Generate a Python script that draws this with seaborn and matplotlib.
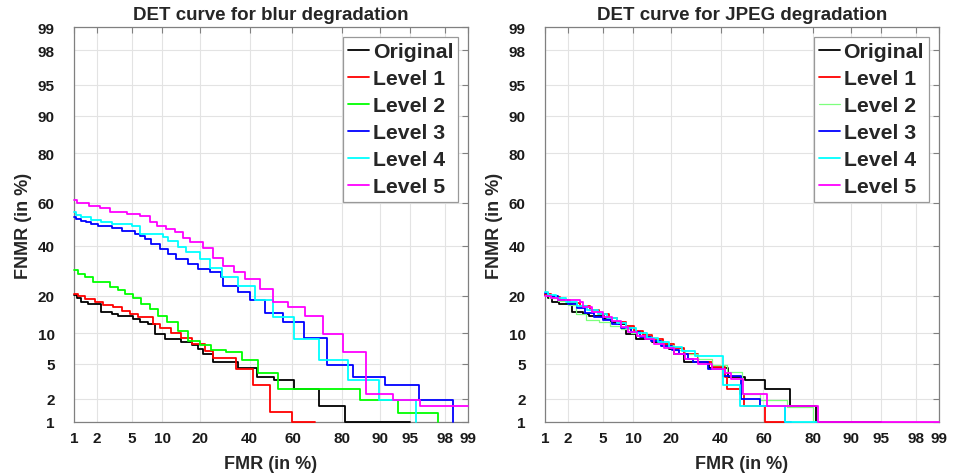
import numpy as np
import pandas as pd
import matplotlib
matplotlib.use("Agg")
import matplotlib.pyplot as plt
import seaborn as sns
from statistics import NormalDist

# ---------------- data (FMR %, FNMR %) ----------------
TICKS = [1, 2, 5, 10, 20, 40, 60, 80, 90, 95, 98, 99]
TICK_LABELS = ["1", "2", "5", "10", "20", "40", "60", "80", "90", "95", "98", "99"]
SERIES = ["Original", "Level 1", "Level 2", "Level 3", "Level 4", "Level 5"]

orig_fmr = [1.0, 1.1, 1.23, 1.53, 2.26, 3.0, 3.55, 5.2, 6.1, 7.3, 8.5, 10.5, 14.5, 17.4,
            19.5, 21.1, 24.7, 34.9, 43.3, 51.4, 60.9, 71.5, 80.9, 95]
orig_fnmr = [20.3, 19.2, 18.1, 17.4, 15.2, 14.6, 14.1, 13.2, 12.6, 12, 9.8, 8.8, 8.2, 7.8,
             7.1, 6.3, 5.2, 4.5, 3.6, 3.3, 2.6, 1.63, 1.0, 1.0]

blur1_fmr = [1.0, 1.13, 1.39, 1.87, 2.37, 3.1, 3.9, 4.75, 5.8, 8.2, 9.4, 12, 14.5, 17.4,
             21.7, 24.7, 34.1, 41.6, 49.6, 59.7, 69.9]
blur1_fnmr = [20.6, 19.8, 19, 18.1, 17.1, 16.4, 15.5, 14.6, 13.7, 12, 11, 10, 9, 7.9,
              6.8, 5.7, 4.4, 2.9, 1.33, 1.0, 1.0]

blur2_fmr = [1.0, 1.13, 1.39, 1.8, 2.84, 3.55, 4.2, 5.2, 6.2, 7.6, 9.1, 11, 13.6, 16.4,
             20, 24.1, 29.9, 36.6, 43.9, 53.5, 85.4, 93.3, 97.6]
blur2_fnmr = [29.6, 27.9, 26.6, 24.7, 22.9, 22.1, 20.6, 19.2, 17.4, 15.9, 13.9, 12.6, 10.5,
              8.5, 7.8, 7.0, 6.6, 5.5, 4.0, 2.6, 1.94, 1.29, 1.0]

blur3_fmr = [1.0, 1.08, 1.26, 1.46, 1.7, 2.05, 3.0, 3.9, 5.4, 6.1, 6.8, 7.9, 9.4, 11.2,
             13.2, 16.4, 19.5, 23.5, 27.9, 28.6, 34.9, 40.1, 47, 55.5, 65.2, 74.5, 83.5,
             91.1, 96, 98.4]
blur3_fnmr = [53.3, 52.6, 51.8, 51, 50.2, 49.1, 48.2, 47, 45.5, 44.7, 43.2, 40.9, 38.6, 36.4,
              34.2, 32, 29.9, 28.6, 26.6, 23.5, 21.2, 18.8, 14.7, 12.4, 9, 4.9, 3.6,
              2.9, 1.94, 1.0]

blur4_fmr = [1.0, 1.08, 1.26, 1.7, 2.26, 3.0, 5.0, 6.1, 10.1, 11.2, 13.6, 15.9, 20, 23.5,
             28.2, 34.9, 42.4, 51.1, 60.9, 71.5, 81.8, 89.9, 95.7]
blur4_fnmr = [55.7, 54.4, 53.3, 52.2, 51, 50.2, 49.1, 45.5, 44, 42.4, 39.4, 37.1, 34.2, 30.2,
              26.6, 23.5, 18.6, 13.7, 8.9, 5.5, 3.3, 1.94, 1.0]

blur5_fmr = [1.0, 1.1, 1.6, 2.2, 2.9, 4.4, 6.1, 7.6, 8.9, 10.8, 12.9, 15, 17, 21, 24.6,
             28.7, 32.9, 38, 44.6, 50.8, 58.1, 65.6, 73.2, 80.4, 86.9, 92.5, 96.1, 99]
blur5_fnmr = [61.5, 60, 58.7, 57.5, 56, 55, 53.8, 51.3, 49.4, 47.8, 46.3, 43.8, 42, 38.9, 34.5,
              31.3, 28.6, 26, 22.3, 18.1, 16.4, 14.1, 9.8, 6.6, 2.3, 1.94, 1.63, 1.63]

jpeg1_fmr = [1.0, 1.2, 1.6, 2.1, 2.8, 3.6, 4.6, 5.8, 7.0, 8.5, 10.2, 12.2, 14.5, 17.5, 21,
             24.5, 30.3, 36, 42, 42.8, 49, 50.9, 60.7, 69.4]
jpeg1_fnmr = [20.6, 19.5, 18.6, 17.8, 16.8, 15.6, 14.6, 13.6, 12.6, 11.6, 10.4, 9.6, 8.8, 8.0,
              7.2, 6.4, 5.2, 4.6, 3.6, 2.6, 2.3, 1.63, 1.0, 1.0]

jpeg2_fmr = [1.0, 1.15, 1.5, 2.0, 2.5, 3.3, 4.6, 6.0, 7.6, 9.4, 11.5, 14, 17, 21, 25, 30,
             36, 42.8, 49.8, 58.4, 70.1, 80]
jpeg2_fnmr = [20.2, 19.4, 18.3, 17.0, 14.6, 12.9, 12.4, 11.6, 10.8, 10.0, 9.4, 8.6, 7.8, 7.0,
              6.3, 5.6, 4.9, 4.1, 2.3, 1.9, 1.55, 1.0]

jpeg3_fmr = [1.0, 1.1, 1.5, 2.0, 2.6, 3.2, 4.0, 5.0, 6.2, 7.6, 9.4, 11.5, 14, 17, 20.5, 23,
             26.3, 28.2, 34.5, 41.3, 49.4, 58.4, 69.4, 72]
jpeg3_fnmr = [20.8, 19.8, 18.6, 17.4, 16.2, 14.8, 13.8, 13.0, 12.0, 11.0, 10.2, 9.2, 8.4, 7.6,
              7.0, 6.4, 5.6, 5.2, 4.4, 3.7, 2.0, 1.63, 1.0, 1.0]

jpeg4_fmr = [1.0, 1.1, 1.4, 1.9, 2.6, 3.4, 4.4, 5.6, 7.0, 8.6, 10.5, 13, 16, 19.5, 23.8,
             28.9, 41.3, 49, 69.4, 81.6]
jpeg4_fnmr = [21.2, 20.4, 19.2, 18.0, 16.8, 15.6, 14.6, 13.4, 12.2, 11.0, 10.0, 9.0, 8.2, 7.5,
              6.8, 6.1, 2.9, 1.63, 1.0, 1.0]

jpeg5_fmr = [1.0, 1.2, 1.5, 2.8, 3.0, 3.8, 5.0, 6.2, 7.6, 9.0, 10.8, 12.5, 15, 18, 21, 25,
             30, 36, 42, 45, 50.7, 61.5, 81.6, 99]
jpeg5_fnmr = [20.0, 19.4, 18.8, 18.0, 16.5, 15.1, 13.8, 12.8, 11.4, 10.2, 9.4, 8.8, 8.0, 7.2,
              6.4, 5.6, 5.0, 4.4, 4.0, 3.4, 2.3, 1.63, 1.0, 1.0]

COLORS = ["#000000", "#ff0000", "#00ff00", "#0000ff", "#00ffff", "#ff00ff"]

blur_data = [(orig_fmr, orig_fnmr), (blur1_fmr, blur1_fnmr), (blur2_fmr, blur2_fnmr),
             (blur3_fmr, blur3_fnmr), (blur4_fmr, blur4_fnmr), (blur5_fmr, blur5_fnmr)]
jpeg_data = [(orig_fmr, orig_fnmr), (jpeg1_fmr, jpeg1_fnmr), (jpeg2_fmr, jpeg2_fnmr),
             (jpeg3_fmr, jpeg3_fnmr), (jpeg4_fmr, jpeg4_fnmr), (jpeg5_fmr, jpeg5_fnmr)]

# ---------------- probit scale ----------------
_nd = NormalDist()
_ppf = np.vectorize(lambda q: _nd.inv_cdf(q) if np.isfinite(q) else np.nan, otypes=[float])
_cdf = np.vectorize(lambda z: _nd.cdf(z) if np.isfinite(z) else np.nan, otypes=[float])


def probit_fwd(p):
    p = np.asarray(p, dtype=float)
    q = np.clip(p / 100.0, 1e-9, 1 - 1e-9)
    return _ppf(q)


def probit_inv(z):
    z = np.asarray(z, dtype=float)
    return _cdf(np.clip(z, -30, 30)) * 100.0


sns.set_theme(style="white")
plt.rcParams["font.family"] = ["Liberation Sans", "DejaVu Sans"]
plt.rcParams["font.weight"] = "bold"

fig = plt.figure(figsize=(9.57, 4.77), dpi=100)
ax_positions = [[74 / 957, 54.3 / 477, 394 / 957, 394.5 / 477],
                [545 / 957, 54.3 / 477, 394 / 957, 394.5 / 477]]
titles = ["DET curve for blur degradation", "DET curve for JPEG degradation"]

for k, (pos, title, data) in enumerate(zip(ax_positions, titles, [blur_data, jpeg_data])):
    ax = fig.add_axes(pos)
    ax.set_xscale("function", functions=(probit_fwd, probit_inv))
    ax.set_yscale("function", functions=(probit_fwd, probit_inv))
    for i, (name, (fx, fy)) in enumerate(zip(SERIES, data)):
        df = pd.DataFrame({"FMR": fx, "FNMR": fy})
        color = COLORS[i]
        lw = 1.3
        if k == 1 and i == 2:
            color = "#7dff7d"
            lw = 0.9
        sns.lineplot(data=df, x="FMR", y="FNMR", ax=ax, color=color, lw=lw,
                     drawstyle="steps-post", sort=False, estimator=None,
                     label=name, clip_on=False, zorder=3 + i)
    ax.set_xlim(1, 99)
    ax.set_ylim(1, 99)
    ax.set_xticks(TICKS)
    ax.set_xticklabels(TICK_LABELS)
    ax.set_yticks(TICKS)
    ax.set_yticklabels(TICK_LABELS)
    ax.minorticks_off()
    ax.grid(True, color="#e3e3e3", lw=0.8)
    ax.set_axisbelow(True)
    ax.tick_params(direction="in", top=True, right=True, length=4, width=0.8,
                   color="#808080", labelsize=11, labelcolor="#1a1a1a")
    ax.tick_params(axis="y", pad=14)
    ax.tick_params(axis="x", pad=7)
    for lab in ax.get_xticklabels() + ax.get_yticklabels():
        lab.set_fontweight("bold")
    for sp in ax.spines.values():
        sp.set_color("#808080")
        sp.set_linewidth(0.9)
        sp.set_visible(True)
    ax.set_xlabel("FMR (in %)", fontsize=13, fontweight="bold", labelpad=7)
    ax.set_ylabel("FNMR (in %)", fontsize=13, fontweight="bold", labelpad=4)
    ax.set_title(title, fontsize=13.5, fontweight="bold", pad=6)
    leg = ax.legend(loc="upper right", frameon=True, fancybox=False,
                    framealpha=1, edgecolor="#999999", handlelength=1.0,
                    handletextpad=0.15, borderpad=0.25, labelspacing=0.38,
                    borderaxespad=0.45, prop={"weight": "bold", "size": 15.3})
    leg.get_frame().set_linewidth(0.9)

fig.savefig("out.png", dpi=100)
